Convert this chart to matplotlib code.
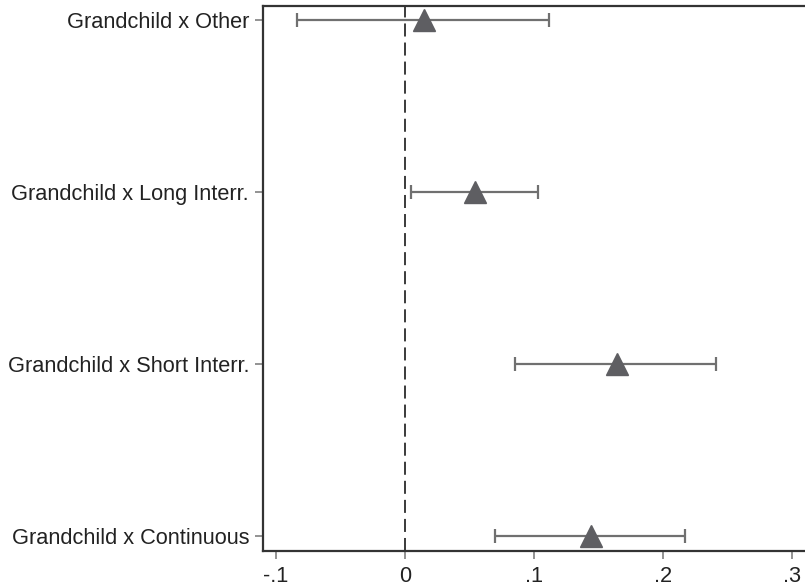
import numpy as np
import matplotlib.pyplot as plt

plt.rcParams['font.family'] = ['Liberation Sans', 'DejaVu Sans']

# Coefficients and 95% CIs
labels = ["Grandchild x Continuous", "Grandchild x Short Interr.",
          "Grandchild x Long Interr.", "Grandchild x Other"]
coef = [0.144, 0.164, 0.0545, 0.0146]
ci_low = [0.070, 0.0855, 0.0048, -0.084]
ci_high = [0.217, 0.241, 0.103, 0.112]
xticks = [-0.1, 0, 0.1, 0.2, 0.3]
xticklabels = ["-.1", "0", ".1", ".2", ".3"]

fig = plt.figure(figsize=(8.05, 5.88), dpi=100)
ax = fig.add_axes([263 / 805, 37 / 588, 1 - 263 / 805, 545 / 588])

ypos = np.arange(len(labels))
coef = np.array(coef)
err = [coef - np.array(ci_low), np.array(ci_high) - coef]

ax.axvline(0, color='#3a3a3a', linestyle=(0, (6.7, 3.1)), linewidth=1.4, zorder=1)
ax.errorbar(coef, ypos, xerr=err, fmt='none', ecolor='#707070',
            elinewidth=1.6, capsize=5, capthick=1.6, zorder=2)
ax.plot(coef, ypos, '^', color='#5e5e62', markersize=16, zorder=3,
        linestyle='none')

ax.set_xlim(-0.11, 0.31)
ax.set_ylim(-0.089, 3.081)
ax.set_yticks(ypos)
ax.set_yticklabels(labels, fontsize=15.7, color='#222222')
ax.set_xticks(xticks)
ax.set_xticklabels(xticklabels, fontsize=15.7, color='#222222')

ax.spines['right'].set_visible(False)
for s in ['left', 'bottom', 'top']:
    ax.spines[s].set_color('#333333')
    ax.spines[s].set_linewidth(1.6)
ax.tick_params(axis='y', length=6, width=1.2, color='#808080', pad=4)
ax.tick_params(axis='x', length=6, width=1.2, color='#808080', pad=5)

fig.savefig('out.png', dpi=100)
